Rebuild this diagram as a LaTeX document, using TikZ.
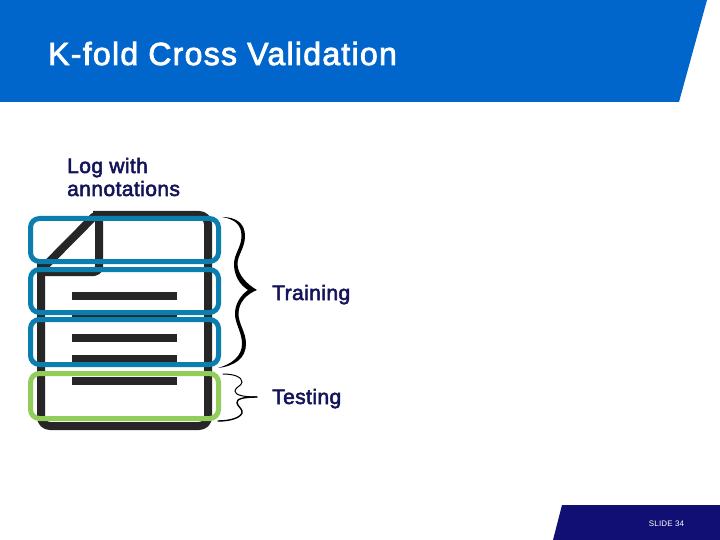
\documentclass[tikz,border=0pt]{standalone}
\usepackage{fontspec}
\setmainfont{Liberation Sans}
\newfontfamily\titlefont[FakeBold=2.5,LetterSpace=4]{Liberation Sans}
\newfontfamily\labelfont[FakeBold=2.5,LetterSpace=2]{Liberation Sans}
\newfontfamily\slidefont[LetterSpace=2]{Liberation Sans}
\definecolor{bannerblue}{HTML}{0066CC}
\definecolor{footnavy}{HTML}{110F73}
\definecolor{textnavy}{HTML}{14145A}
\definecolor{foldblue}{HTML}{0A7FAF}
\definecolor{foldgreen}{HTML}{92CD5C}
\definecolor{docink}{HTML}{262626}
\tikzset{
  foldbox/.style={draw=foldblue,line width=5pt,rounded corners=9pt,fill=none},
  testbox/.style={draw=foldgreen,line width=5pt,rounded corners=9pt,fill=none},
  docline/.style={draw=docink,line width=8pt,line cap=butt},
  docedge/.style={draw=docink,line width=8pt,line join=round},
  label/.style={text=textnavy,font=\labelfont\fontsize{21}{24}\selectfont,anchor=base west,inner sep=0pt},
  bracefill/.style={fill=black,draw=none}
}
\begin{document}
\begin{tikzpicture}[x=1pt,y=-1pt]
\useasboundingbox (0,0) rectangle (720,540);
\fill[white] (0,0) rectangle (720,540);
% banner and footer
\fill[bannerblue] (0,0) -- (707,0) -- (679,102) -- (0,102) -- cycle;
\fill[footnavy] (562,505) -- (720,505) -- (720,540) -- (553,540) -- cycle;
\node[text=white,font=\titlefont\fontsize{32}{36}\selectfont,anchor=base west,inner sep=0pt] (title) at (48,65) {K-fold Cross Validation};
\node[text=white,font=\slidefont\fontsize{8}{10}\selectfont,anchor=center,inner sep=0pt] (slide) at (666.5,523.5) {SLIDE 34};
% labels
\node[label] (log) at (67,173) {Log with};
\node[label] (ann) at (67,196) {annotations};
\node[label] (train) at (272,300) {Training};
\node[label] (test) at (272,404) {Testing};
% document icon
\draw[docedge,rounded corners=9pt] (41,262) -- (41,426) -- (208,426) -- (208,215) -- (93,215);
\draw[docedge,line cap=round] (94,216.5) -- (47,264);
\draw[docedge,rounded corners=5pt] (99,215) -- (99,272) -- (41,272);
\draw[docline] (72,296) -- (177,296);
\draw[docline] (72,317) -- (177,317);
\draw[docline] (72,338) -- (177,338);
\draw[docline] (72,359) -- (177,359);
\draw[docline] (72,381) -- (177,381);
% folds
\draw[foldbox] (30.5,218.5) rectangle (218.5,261.5);
\draw[foldbox] (30.5,269.5) rectangle (218.5,312.5);
\draw[foldbox] (30.5,319.5) rectangle (218.5,364.5);
\draw[testbox] (30.5,373.5) rectangle (218.5,418.5);
% large brace
\fill[bracefill] (222,217) .. controls (237,217) and (245,224) .. (245,236)
  .. controls (245,248) and (237.5,255) .. (237.5,264)
  .. controls (237.5,275) and (248,285) .. (257,290)
  .. controls (247,294) and (238.5,302) .. (238.5,314)
  .. controls (238.5,324) and (246,332) .. (246,344)
  .. controls (246,358) and (235,366) .. (218,368)
  .. controls (232,364) and (242,356) .. (242,344)
  .. controls (242,332) and (235,324) .. (235,314)
  .. controls (235,304) and (240,296) .. (248,290)
  .. controls (240,285) and (234,276) .. (234,264)
  .. controls (234,254) and (241.5,247) .. (241.5,236)
  .. controls (241.5,225) and (235,219) .. (222,217) -- cycle;
% small brace
\draw[black,line width=1pt,line cap=round] (223,374) .. controls (234,374) and (242,377) .. (242,382)
  .. controls (242,386) and (235,387) .. (235,391)
  .. controls (235,395) and (243,397) .. (257,397);
\draw[black,line width=1.4pt,line cap=round] (257,397) .. controls (243,397) and (236,399) .. (237,403)
  .. controls (238,407) and (243,409) .. (242,413)
  .. controls (240,418) and (230,421) .. (218,421);
\end{tikzpicture}
\end{document}
